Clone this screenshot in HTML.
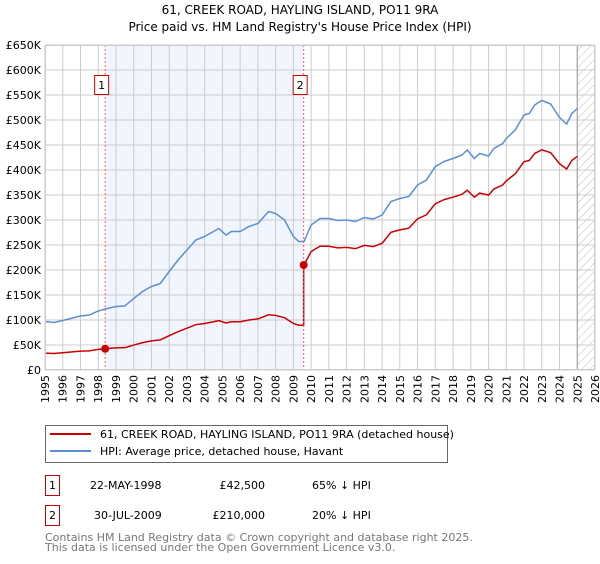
<!DOCTYPE html>
<html><head><meta charset="utf-8"><style>
body{margin:0;background:#fff;font-family:"DejaVu Sans","Liberation Sans",sans-serif;}
svg text{font-family:"DejaVu Sans","Liberation Sans",sans-serif;}
</style></head><body>
<svg id="chart" width="600" height="560" xmlns="http://www.w3.org/2000/svg">
<defs><pattern id="hatch" width="6" height="6" patternUnits="userSpaceOnUse" patternTransform="rotate(45)"><line x1="0" y1="0" x2="0" y2="6" stroke="#bbb" stroke-width="1"/></pattern></defs>
<text x="300" y="14" text-anchor="middle" font-size="12">61, CREEK ROAD, HAYLING ISLAND, PO11 9RA</text>
<text x="300" y="31" text-anchor="middle" font-size="12">Price paid vs. HM Land Registry's House Price Index (HPI)</text>
<g id="plot"></g>
<g>
<rect x="45.5" y="425.5" width="402" height="37" fill="#fff" stroke="#666"/>
<line x1="50" y1="434" x2="91" y2="434" stroke="#cc0000" stroke-width="2"/>
<text x="100" y="438" font-size="11">61, CREEK ROAD, HAYLING ISLAND, PO11 9RA (detached house)</text>
<line x1="50" y1="451" x2="91" y2="451" stroke="#5b8fd4" stroke-width="2"/>
<text x="100" y="455" font-size="11">HPI: Average price, detached house, Havant</text>
</g>
<g font-size="11">
<rect x="45.5" y="475.5" width="14" height="20" fill="#fff" stroke="#cc0000"/><text x="52.5" y="489" text-anchor="middle">1</text>
<text x="90" y="489">22-MAY-1998</text><text x="265" y="489" text-anchor="end">£42,500</text><text x="312" y="489">65% ↓ HPI</text>
<rect x="45.5" y="505.5" width="14" height="20" fill="#fff" stroke="#cc0000"/><text x="52.5" y="519" text-anchor="middle">2</text>
<text x="94" y="519">30-JUL-2009</text><text x="265" y="519" text-anchor="end">£210,000</text><text x="312" y="519">20% ↓ HPI</text>
</g>
<text x="45" y="541" font-size="11" fill="#777">Contains HM Land Registry data © Crown copyright and database right 2025.</text>
<text x="45" y="551" font-size="11" fill="#777">This data is licensed under the Open Government Licence v3.0.</text>
</svg>
<script>
const hpiYears=[1995.0,1995.5,1996.0,1997.0,1997.5,1998.0,1998.5,1999.0,1999.5,2000.0,2000.5,2001.0,2001.5,2002.0,2002.5,2003.0,2003.5,2004.0,2004.5,2004.8,2005.2,2005.5,2006.0,2006.5,2007.0,2007.6,2008.0,2008.5,2009.0,2009.3,2009.6,2010.0,2010.5,2011.0,2011.5,2012.0,2012.5,2013.0,2013.5,2014.0,2014.5,2015.0,2015.5,2016.0,2016.5,2017.0,2017.5,2018.0,2018.5,2018.8,2019.2,2019.5,2020.0,2020.3,2020.8,2021.0,2021.5,2022.0,2022.3,2022.6,2023.0,2023.5,2024.0,2024.4,2024.7,2025.0];
const hpiValues=[97,95,99,108,110,118,123,127,128,143,157,167,173,197,220,240,260,267,277,283,270,277,277,287,293,317,313,300,267,257,257,290,303,303,299,300,297,305,302,310,337,343,347,370,380,407,417,423,430,440,423,433,428,443,453,463,480,510,513,530,539,532,505,492,513,523];
const saleYears=[1998.39,2009.58];
const salePrices=[42.5,210];
const saleLabels=["1","2"];
const yTicks=[0,50,100,150,200,250,300,350,400,450,500,550,600,650];
const yTickLabels=["£0","£50K","£100K","£150K","£200K","£250K","£300K","£350K","£400K","£450K","£500K","£550K","£600K","£650K"];
const xTicks=[];for(let y=1995;y<=2026;y++)xTicks.push(y);

const X0=45,X1=595,Y0=370,Y1=45;
const xs=v=>X0+(v-1995)/(2026-1995)*(X1-X0);
const ys=v=>Y0-v/650*(Y0-Y1);
const NS="http://www.w3.org/2000/svg";
const g=document.getElementById('plot');
function mk(tag,attrs,parent){const e=document.createElementNS(NS,tag);for(const k in attrs)e.setAttribute(k,attrs[k]);(parent||g).appendChild(e);return e;}
function hpiAt(t){for(let i=0;i<hpiYears.length-1;i++){if(t<=hpiYears[i+1]){const f=(t-hpiYears[i])/(hpiYears[i+1]-hpiYears[i]);return hpiValues[i]+f*(hpiValues[i+1]-hpiValues[i]);}}return hpiValues[hpiValues.length-1];}

let bg=mk('rect',{x:X0,y:Y1,width:X1-X0,height:Y0-Y1,fill:'#fff'});

let sh=mk('rect',{x:xs(saleYears[0]),y:Y1,width:xs(saleYears[1])-xs(saleYears[0]),height:Y0-Y1,fill:'#eef3fc',opacity:0.8});

let ht=mk('rect',{x:xs(2025),y:Y1,width:X1-xs(2025),height:Y0-Y1,fill:'url(#hatch)'});

yTicks.forEach((v,i)=>{
 const l=mk('line',{x1:X0,x2:X1,y1:ys(v),y2:ys(v),stroke:'#ccc','stroke-width':1});
 
 const t=mk('text',{x:X0-4,y:ys(v)+4,'text-anchor':'end','font-size':11});t.textContent=yTickLabels[i];
 
});
xTicks.forEach(v=>{
 const l=mk('line',{x1:xs(v),x2:xs(v),y1:Y1,y2:Y0,stroke:'#ccc','stroke-width':1});
 
 const t=mk('text',{x:0,y:0,'font-size':11,'text-anchor':'end',transform:`translate(${xs(v)+4},${Y0+5}) rotate(-90)`});t.textContent=v;
 
});
let ln25=mk('line',{x1:xs(2025),x2:xs(2025),y1:Y1,y2:Y0,stroke:'#999','stroke-width':1});

let hp=mk('polyline',{points:hpiYears.map((t,i)=>xs(t)+','+ys(hpiValues[i])).join(' '),fill:'none',stroke:'#5b8fd4','stroke-width':1.5});

const pts=[];
const r0=salePrices[0]/hpiAt(saleYears[0]), r1=salePrices[1]/hpiAt(saleYears[1]);
hpiYears.forEach((t,i)=>{ if(t<saleYears[1]) pts.push([t,hpiValues[i]*r0]); });
pts.push([saleYears[1],hpiAt(saleYears[1])*r0]);
pts.push([saleYears[1],salePrices[1]]);
hpiYears.forEach((t,i)=>{ if(t>saleYears[1]) pts.push([t,hpiValues[i]*r1]); });
let pl=mk('polyline',{points:pts.map(p=>xs(p[0])+','+ys(p[1])).join(' '),fill:'none',stroke:'#cc0000','stroke-width':1.5});

saleYears.forEach((t,i)=>{
 const v=mk('line',{x1:xs(t),x2:xs(t),y1:Y1,y2:Y0,stroke:'#f06060','stroke-width':1,'stroke-dasharray':'2,2'});
 
 const d=mk('circle',{cx:xs(t),cy:ys(salePrices[i]),r:4,fill:'#cc0000'});
 
 const bx=mk('rect',{x:xs(t)-10.5,y:75.5,width:14,height:19,fill:'#fff',stroke:'#cc0000'});
 
 const tx=mk('text',{x:xs(t)-3.5,y:89,'text-anchor':'middle','font-size':11});tx.textContent=saleLabels[i];
 
});
let fr=mk('rect',{x:X0+0.5,y:Y1+0.5,width:X1-X0-1,height:Y0-Y1-1,fill:'none',stroke:'#ccc'});

</script>
</body></html>
